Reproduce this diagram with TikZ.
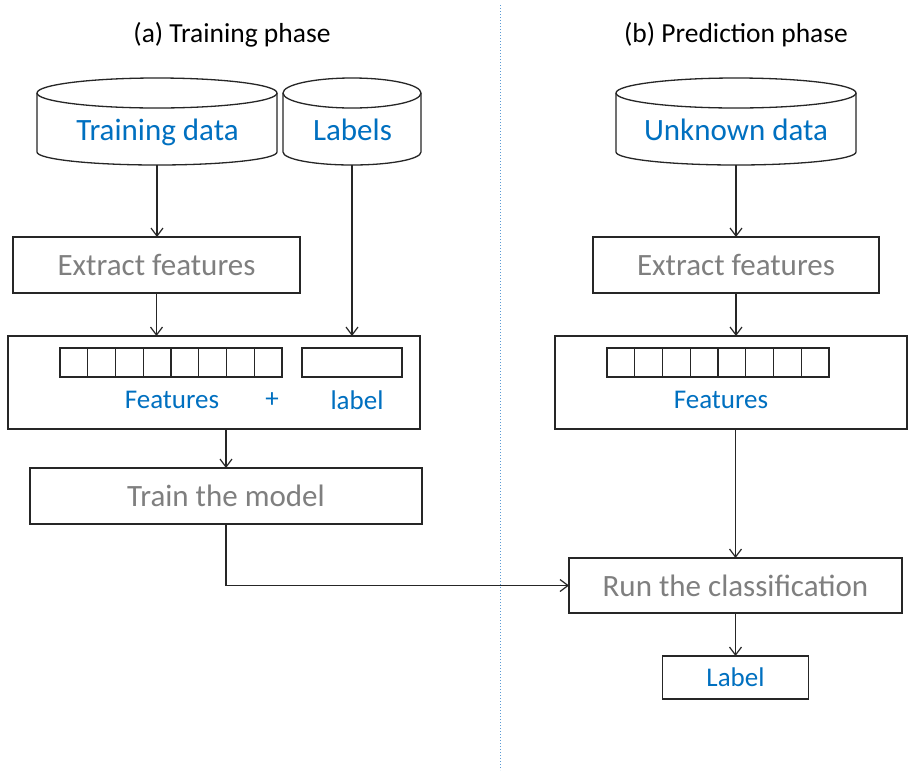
\documentclass[tikz,border=0pt]{standalone}
\usepackage{fontspec}
\setmainfont{Carlito}
\usetikzlibrary{arrows.meta}
\definecolor{txtblue}{HTML}{0070C0}
\definecolor{txtgray}{HTML}{7F7F7F}
\definecolor{sepblue}{HTML}{5B9BD5}
\tikzset{
  lw/.style={line width=1.3pt, draw=black!85},
  box/.style={lw, rectangle, inner sep=0pt, outer sep=0pt},
  bigtext/.style={font=\fontsize{31}{37}\selectfont},
  midtext/.style={font=\fontsize{27.5}{33}\selectfont},
  graytext/.style={bigtext, text=txtgray},
  bluetext/.style={bigtext, text=txtblue},
  smallblue/.style={font=\fontsize{27}{32}\selectfont, text=txtblue},
  cell/.style={line width=1.2pt, draw=black!85},
  arr/.style={lw, -{Straight Barb[length=8pt,width=12pt,line width=1.2pt]}},
}
\begin{document}
\begin{tikzpicture}[x=1pt, y=-1pt]
\useasboundingbox (0,0) rectangle (908,772);
\fill[white] (0,0) rectangle (908,772);

% phase separator
\coordinate (septop) at (500,5);
\coordinate (sepbot) at (500,770);
\draw[sepblue, line width=1pt, dotted] (septop) -- (sepbot);

% titles
\node[midtext] (ta) at (232,35) {(a) Training phase};
\node[midtext] (tb) at (736,35) {(b) Prediction phase};

% databases
\draw[lw, fill=white] (157,93) ellipse [x radius=120pt, y radius=15pt];
\draw[lw] (37,93) -- (37,152) arc[start angle=180, end angle=360, x radius=120pt, y radius=13pt] -- (277,93);
\node[bluetext, anchor=base] (td) at (157.5,140) {Training data};
\coordinate (tdb) at (157,165);

\draw[lw, fill=white] (352,93) ellipse [x radius=69pt, y radius=15pt];
\draw[lw] (283,93) -- (283,152) arc[start angle=180, end angle=360, x radius=69pt, y radius=13pt] -- (421,93);
\node[bluetext, anchor=base] (lb) at (352.5,140) {Labels};
\coordinate (lbb) at (352,165);

\draw[lw, fill=white] (736,93) ellipse [x radius=120pt, y radius=15pt];
\draw[lw] (616,93) -- (616,152) arc[start angle=180, end angle=360, x radius=120pt, y radius=13pt] -- (856,93);
\node[bluetext, anchor=base] (ud) at (736,140) {Unknown data};
\coordinate (udb) at (736,165);

% training side
\node[box, graytext, minimum width=287pt, minimum height=56pt] (ext1) at (156.5,265) {Extract features};
\node[box, minimum width=412pt, minimum height=93pt] (feat1) at (214,382.5) {};
\foreach \i in {0,...,7}
  \draw[cell] (60+\i*27.75,348) rectangle ++(27.75,29);
\draw[cell] (302,348) rectangle (402,377);
\node[smallblue] (ftx1) at (172,400) {Features};
\node[smallblue] (plus) at (272,400) {+};
\node[smallblue] (lbtx) at (357,400) {label};
\node[box, graytext, minimum width=392pt, minimum height=56pt] (train) at (226,496) {Train the model};

% prediction side
\node[box, graytext, minimum width=286pt, minimum height=56pt] (ext2) at (736,265) {Extract features};
\node[box, minimum width=352pt, minimum height=93pt] (feat2) at (731,382.5) {};
\foreach \i in {0,...,7}
  \draw[cell] (607+\i*27.75,348) rectangle ++(27.75,29);
\node[smallblue] (ftx2) at (721,400) {Features};
\node[box, graytext, minimum width=333pt, minimum height=55pt] (run) at (735.5,585.5) {Run the classification};
\node[box, smallblue, minimum width=146pt, minimum height=43pt] (lab) at (735.5,677.5) {Label};

% connectors
\draw[arr] (tdb) -- (tdb |- ext1.north);
\draw[arr] (lbb) -- (lbb |- feat1.north);
\draw[arr] (ext1.south) -- (ext1.south |- feat1.north);
\draw[arr] (feat1.south -| train.north) -- (train.north);
\draw[arr] (train.south) |- (run.west);
\draw[arr] (udb) -- (udb |- ext2.north);
\draw[arr] (ext2.south) -- (ext2.south |- feat2.north);
\draw[arr] (feat2.south -| run.north) -- (run.north);
\draw[arr] (run.south) -- (lab.north);
\end{tikzpicture}
\end{document}
